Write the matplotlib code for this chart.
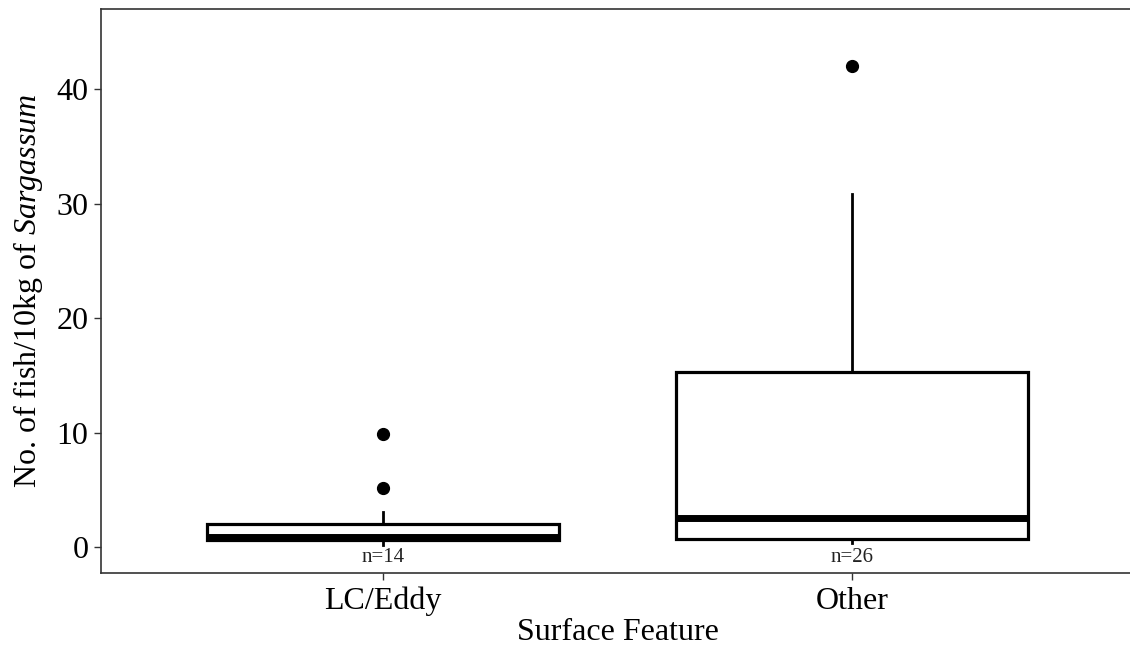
import matplotlib
matplotlib.use("Agg")
import matplotlib.pyplot as plt

plt.rcParams["font.family"] = ["Liberation Serif", "DejaVu Serif"]
plt.rcParams["mathtext.fontset"] = "custom"
plt.rcParams["mathtext.rm"] = "Liberation Serif"
plt.rcParams["mathtext.it"] = "Liberation Serif:italic"

# Box summaries per surface feature
categories = ["LC/Eddy", "Other"]
counts = [14, 26]
q1 = [0.65, 0.7]
medians = [0.9, 2.55]
q3 = [2.05, 15.3]
whisker_low = [0.15, 0.35]
whisker_high = [3.05, 30.8]
outliers = [[5.15, 9.9], [42.0]]

stats = []
for i, name in enumerate(categories):
    stats.append(dict(label=name, med=medians[i], q1=q1[i], q3=q3[i],
                      whislo=whisker_low[i], whishi=whisker_high[i],
                      fliers=outliers[i]))

fig = plt.figure(figsize=(11.3, 6.47), dpi=100)
ax = fig.add_axes([101 / 1130, (647 - 573) / 647, 1033 / 1130, (573 - 9) / 647])

positions = list(range(1, len(categories) + 1))
ax.bxp(stats, positions=positions, widths=0.75, showcaps=False,
       patch_artist=True,
       boxprops=dict(facecolor="white", edgecolor="black", linewidth=2.3),
       medianprops=dict(color="black", linewidth=5.0, solid_capstyle="butt"),
       whiskerprops=dict(color="black", linewidth=2.0),
       flierprops=dict(marker="o", markerfacecolor="black",
                       markeredgecolor="black", markersize=8.5))

for pos, n in zip(positions, counts):
    ax.text(pos, -0.95, f"n={n}", ha="center", va="center", fontsize=15,
            color="#222222")

ax.set_xlim(0.4, 2.6)
ax.set_ylim(-2.27, 47.0)
ax.set_yticks([0, 10, 20, 30, 40])
ax.set_xticks(positions)
ax.set_xticklabels(categories)

for side in ["top", "bottom", "left", "right"]:
    ax.spines[side].set_color("#333333")
    ax.spines[side].set_linewidth(1.2)

ax.tick_params(axis="both", colors="#333333", length=5, width=1.0,
               labelsize=23, labelcolor="black")
ax.tick_params(axis="y", pad=4)
ax.tick_params(axis="x", pad=5)

ax.set_xlabel("Surface Feature", fontsize=23, labelpad=1)
ax.set_ylabel(r"No. of fish/10kg of $\it{Sargassum}$", fontsize=23, labelpad=8)

fig.savefig("out.png", dpi=100)
